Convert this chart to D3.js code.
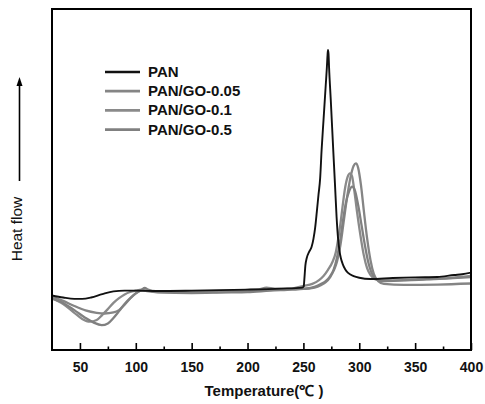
<!DOCTYPE html>
<html><head><meta charset="utf-8">
<script src="https://cdn.jsdelivr.net/npm/d3@7"></script>
<style>
html,body{margin:0;padding:0;background:#fff;}
svg{display:block;font-family:"Liberation Sans",Arial,sans-serif;}
</style></head>
<body>
<svg id="chart" width="485" height="404"></svg>
<script>
// ---- data (temperature °C, heat flow a.u.) ----
const seriesNames = ["PAN", "PAN/GO-0.05", "PAN/GO-0.1", "PAN/GO-0.5"];
const xTicks = [50, 100, 150, 200, 250, 300, 350, 400];
const xMinorTicks = [75, 125, 175, 225, 275, 325, 375];

const pan = [[25,16.0],[35,15.4],[45,15.0],[52,15.0],[60,15.4],[70,16.4],[80,17.2],[90,17.4],[100,17.4],[120,17.3],[150,17.4],[200,17.7],[230,18.0],[249,18.3],[250.3,18.6],[250.8,20.5],[251.8,24.9],[253,27.0],[255,28.7],[257.3,30.2],[259,32.6],[260.5,35.8],[262,40.5],[263.5,45.5],[265,50.4],[266.3,58.7],[268,67.4],[270,77.7],[271,82.8],[271.6,86.5],[272,88.0],[272.5,86.8],[273,82.7],[274.5,73.3],[276.7,58.7],[278.2,49.0],[279.7,39.0],[281,32.8],[282.2,29.3],[283.5,27.0],[285.2,25.2],[287.5,23.6],[290,22.6],[295,21.7],[300,21.2],[310,20.8],[330,21.1],[350,21.3],[370,21.4],[385,22.0],[392,22.2],[400,22.7]];

const go005 = [[25,15.7],[35,14.4],[45,12.9],[55,11.6],[65,10.9],[72,10.7],[80,11.0],[85,11.7],[90,13.3],[95,15.1],[100,16.6],[105,17.4],[110,17.4],[120,17.2],[150,17.2],[180,17.3],[200,17.6],[210,17.8],[217,18.3],[224,18.0],[240,17.9],[250,17.9],[260,18.3],[266,19.1],[270,19.9],[274,21.4],[277,23.2],[280,25.8],[283,30.5],[286,37.5],[289,44.6],[292,50.4],[295,54.0],[297,54.7],[299,53.4],[301.5,48.4],[304,41.1],[307,32.8],[310,26.4],[313,22.3],[317,20.2],[322,19.4],[340,19.1],[370,19.2],[400,19.5]];

const go01 = [[25,15.2],[35,13.5],[45,10.9],[52,9.1],[59,8.3],[65,8.8],[70,10.3],[75,12.0],[80,13.8],[85,15.2],[90,16.3],[95,17.0],[100,17.4],[105,17.7],[110,17.3],[120,17.0],[150,16.9],[180,17.0],[200,17.2],[220,17.6],[240,18.0],[250,18.8],[258,19.4],[264,20.5],[268,21.7],[272,23.5],[276,25.8],[279,28.7],[281,32.3],[283,36.7],[285,41.9],[287,46.9],[289.5,50.7],[291.7,51.8],[293.5,51.0],[295.5,46.9],[298,40.5],[301,33.7],[304,27.9],[307,24.0],[310,22.0],[314,20.8],[320,20.4],[340,20.5],[360,20.8],[380,21.1],[400,21.7]];

const go05 = [[25,15.1],[35,13.8],[45,11.7],[55,9.4],[62,8.1],[69.5,7.3],[75,7.8],[80,9.4],[85,11.4],[90,13.5],[95,15.2],[100,16.6],[105,17.6],[108,18.2],[111,17.7],[120,16.9],[150,16.7],[180,16.9],[200,17.0],[220,17.4],[240,17.7],[250,17.9],[260,18.5],[266,19.4],[270,20.2],[274,21.7],[277,23.5],[280,27.0],[283,32.3],[285.5,38.1],[288,43.1],[291,46.6],[293.6,47.9],[296,46.9],[299,42.5],[302,36.7],[305,30.8],[308,25.8],[311,22.6],[315,20.8],[320,20.2],[340,20.4],[360,20.7],[380,21.0],[400,21.4]];

const seriesData = [pan, go005, go01, go05];
const seriesColors = ["#111111", "#858585", "#8a8a8a", "#808080"];
const seriesWidths = [1.9, 2.3, 2.3, 2.3];

// ---- layout ----
const L = 52, R = 471, T = 9, B = 350;
const svg = d3.select("#chart");
const x = d3.scaleLinear().domain([25, 400]).range([L, R]);
const y = d3.scaleLinear().domain([0, 100]).range([B, T]);

const line = d3.line().x(d => x(d[0])).y(d => y(d[1])).curve(d3.curveMonotoneX);

const plot = svg.append("g");
plot.append("defs").append("clipPath").attr("id","clip")
  .append("rect").attr("x",L).attr("y",T).attr("width",R-L).attr("height",B-T);

// draw gray series first, black on top
[1,2,3,0].forEach(i => {
  plot.append("path")
    .datum(seriesData[i])
    .attr("clip-path","url(#clip)")
    .attr("fill","none")
    .attr("stroke", seriesColors[i])
    .attr("stroke-width", seriesWidths[i])
    .attr("stroke-linejoin","round")
    .attr("d", line);
});

// frame
svg.append("rect").attr("x",L).attr("y",T).attr("width",R-L).attr("height",B-T)
  .attr("fill","none").attr("stroke","#000").attr("stroke-width",2);

// x axis with inward ticks
const xAxis = d3.axisBottom(x).tickValues(xTicks).tickSize(-7).tickPadding(12).tickFormat(d3.format("d"));
const gx = svg.append("g").attr("transform",`translate(0,${B})`).call(xAxis);
gx.select(".domain").remove();
gx.selectAll(".tick line").attr("stroke","#000").attr("stroke-width",1.6);
gx.selectAll(".tick text").attr("font-size",14).attr("font-weight","bold")
  .attr("font-family","'Liberation Sans',Arial,sans-serif").attr("fill","#111");

const xMinor = d3.axisBottom(x).tickValues(xMinorTicks).tickSize(-3.5).tickFormat("");
const gxm = svg.append("g").attr("transform",`translate(0,${B})`).call(xMinor);
gxm.select(".domain").remove();
gxm.selectAll(".tick line").attr("stroke","#000").attr("stroke-width",1.6);

// x title
svg.append("text").attr("x", 264).attr("y", 396).attr("text-anchor","middle")
  .attr("font-size",15).attr("font-weight","bold").attr("fill","#111")
  .text("Temperature(℃ )");

// y label + arrow
svg.append("text").attr("transform","translate(21.5,229) rotate(-90)")
  .attr("text-anchor","middle").attr("font-size",15.5).attr("fill","#111")
  .text("Heat flow");
svg.append("line").attr("x1",19.5).attr("x2",19.5).attr("y1",181).attr("y2",84)
  .attr("stroke","#000").attr("stroke-width",1.6);
svg.append("path").attr("d","M19.5,77 L16.5,86 L22.5,86 Z").attr("fill","#000");

// legend
const legY0 = 72, legStep = 19.2;
seriesNames.forEach((name, i) => {
  const yy = legY0 + i * legStep;
  svg.append("line").attr("x1",105).attr("x2",140).attr("y1",yy).attr("y2",yy)
    .attr("stroke", seriesColors[i]).attr("stroke-width", i === 0 ? 2.4 : 2.8);
  svg.append("text").attr("x",148).attr("y",yy + 5).attr("font-size",15)
    .attr("font-weight","bold").attr("fill","#111").text(name);
});
</script>
</body></html>
